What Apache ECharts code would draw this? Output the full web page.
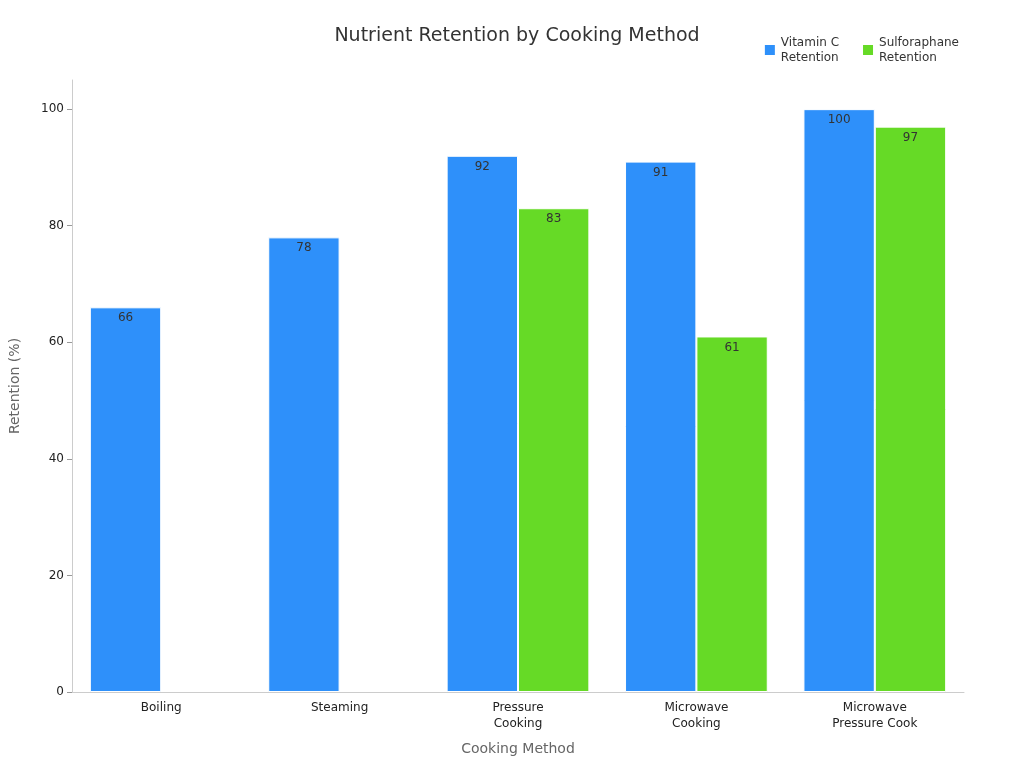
<!DOCTYPE html>
<html>
<head>
<meta charset="utf-8">
<script src="https://cdn.jsdelivr.net/npm/echarts@6/dist/echarts.min.js"></script>
<style>html,body{margin:0;padding:0;background:#fff}#chart{width:1024px;height:768px}</style>
</head>
<body>
<div id="chart"></div>
<script>
const categories = ['Boiling', 'Steaming', 'Pressure\nCooking', 'Microwave\nCooking', 'Microwave\nPressure Cook']
const vitaminC = [66, 78, 92, 91, 100]
const sulforaphane = [null, null, 83, 61, 97]

const chart = echarts.init(document.getElementById('chart'))
const label = {
  show: true,
  position: 'insideTop',
  color: '#333',
  fontSize: 12,
  fontFamily: 'DejaVu Sans'
}
chart.setOption({
  textStyle: { fontFamily: 'DejaVu Sans' },
  title: {
    text: 'Nutrient Retention by Cooking Method',
    left: 512,
    textAlign: 'center',
    top: 22,
    textStyle: { fontSize: 19, fontWeight: 'normal', color: '#333' }
  },
  legend: {
    right: 60,
    top: 30,
    itemWidth: 12,
    itemHeight: 12,
    icon: 'rect',
    itemGap: 22,
    textStyle: { fontSize: 12, color: '#333', lineHeight: 15 },
    data: ['Vitamin C\nRetention', 'Sulforaphane\nRetention']
  },
  grid: { left: 68, right: 60, top: 80, bottom: 76 },
  xAxis: {
    type: 'category',
    data: categories,
    name: 'Cooking Method',
    nameLocation: 'middle',
    nameGap: 50,
    nameTextStyle: { fontSize: 14, color: '#666' },
    axisLine: { lineStyle: { color: '#ccc' } },
    axisTick: { show: false },
    axisLabel: { color: '#222', fontSize: 12, lineHeight: 16, interval: 0 }
  },
  yAxis: {
    type: 'value',
    min: 0,
    max: 105,
    interval: 20,
    name: 'Retention (%)',
    nameLocation: 'middle',
    nameGap: 50,
    nameTextStyle: { fontSize: 14, color: '#666' },
    axisLine: { show: true, lineStyle: { color: '#ccc' } },
    axisTick: { show: true, lineStyle: { color: '#999' } },
    axisLabel: { color: '#222', fontSize: 12, showMaxLabel: false },
    splitLine: { show: false }
  },
  series: [
    {
      name: 'Vitamin C\nRetention',
      type: 'bar',
      data: vitaminC,
      barGap: '0%',
      barCategoryGap: '20%',
      itemStyle: { color: '#2E90FA', borderColor: '#fff', borderWidth: 1 },
      label
    },
    {
      name: 'Sulforaphane\nRetention',
      type: 'bar',
      data: sulforaphane,
      itemStyle: { color: '#66DA26', borderColor: '#fff', borderWidth: 1 },
      label
    }
  ]
})
</script>
</body>
</html>
